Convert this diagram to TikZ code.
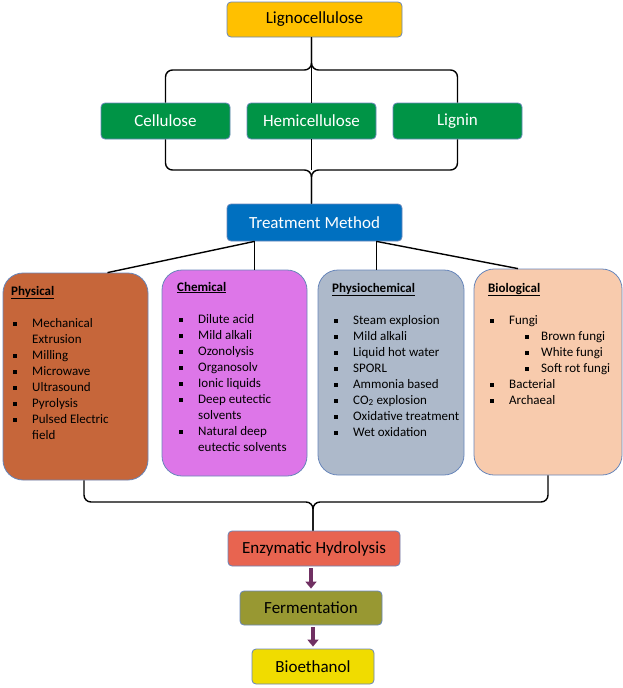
\documentclass[tikz,border=0pt]{standalone}
\usepackage{fontspec}
\setmainfont{Carlito}
\usetikzlibrary{arrows.meta}
\definecolor{edgeblue}{RGB}{104,134,186}
\definecolor{lcgold}{RGB}{255,192,0}
\definecolor{cgreen}{RGB}{0,148,70}
\definecolor{tmblue}{RGB}{0,112,192}
\definecolor{phybrown}{RGB}{198,102,58}
\definecolor{chepink}{RGB}{221,118,232}
\definecolor{pscgray}{RGB}{173,185,202}
\definecolor{biopeach}{RGB}{248,203,173}
\definecolor{ehred}{RGB}{232,100,80}
\definecolor{ferolive}{RGB}{152,152,50}
\definecolor{beyellow}{RGB}{240,220,0}
\definecolor{flowpurple}{RGB}{112,48,98}
\tikzstyle{box}=[rectangle,rounded corners=4pt,draw=edgeblue,line width=0.8pt,minimum height=35pt,inner sep=0pt,font=\fontsize{17}{20}\selectfont]
\tikzstyle{catbox}=[rectangle,rounded corners=20pt,draw=edgeblue,line width=0.8pt]
\tikzstyle{catlist}=[inner sep=0pt,anchor=base west,font=\fontsize{13}{16}\selectfont]
\tikzstyle{brace}=[line width=1.4pt,rounded corners=7pt]
\tikzstyle{link}=[line width=1.4pt]
\tikzstyle{flow}=[draw=flowpurple,line width=4pt,-{Triangle[width=11pt,length=7pt]},shorten <=2pt,shorten >=2pt]
\newcommand{\bsq}{\hspace{2pt}\rule[1.3pt]{4pt}{4pt}}

\begin{document}
\begin{tikzpicture}[x=1pt,y=-1pt]
    \useasboundingbox (0,0) rectangle (623,688);
    \node[box,fill=lcgold,minimum width=175pt] (lc) at (314.5,19.5) {Lignocellulose};
    \node[box,fill=cgreen,text=white,minimum width=129pt,minimum height=36pt] (cel) at (165.5,121) {Cellulose};
    \node[box,fill=cgreen,text=white,minimum width=129pt,minimum height=36pt] (hem) at (311.5,121) {Hemicellulose};
    \node[box,fill=cgreen,text=white,minimum width=129pt,minimum height=36pt] (lig) at (457.5,121) {Lignin};
    \node[box,fill=tmblue,text=white,minimum width=175pt,minimum height=37pt] (tm) at (314.5,222.5) {Treatment Method};
%   upper braces
    \coordinate (tb) at (311.5,70);
    \coordinate (bb) at (311.5,170);
    \draw[brace] (cel.north) |- (tb) -- (lc.south -| tb);
    \draw[brace] (lig.north) |- (tb) -- (lc.south -| tb);
    \draw[link] (lc.south -| tb) -- (hem.north);
    \draw[brace] (cel.south) |- (bb) -- (tm.north -| bb);
    \draw[brace] (lig.south) |- (bb) -- (tm.north -| bb);
    \draw[link] (hem.south) -- (bb);
%   treatment classes
    \node[catbox,fill=phybrown,minimum width=145pt,minimum height=207pt] (phy) at (75.5,376.5) {};
    \node[catbox,fill=chepink,minimum width=145pt,minimum height=206pt] (che) at (234.5,373) {};
    \node[catbox,fill=pscgray,minimum width=146pt,minimum height=205pt] (psc) at (391,372.5) {};
    \node[catbox,fill=biopeach,minimum width=148pt,minimum height=206pt] (bio) at (548,372) {};
    \coordinate (ta) at ([xshift=-60pt]tm.south);
    \coordinate (tc) at ([xshift=62pt]tm.south);
    \draw[link] (ta) -- (ta |- che.north);
    \draw[link] (ta) -- ([xshift=32pt]phy.north);
    \draw[link] (tc) -- (tc |- psc.north);
    \draw[link] (tc) -- ([xshift=-30pt]bio.north);
    \node[catlist] (phyl) at (11,295) {\begin{tabular}[t]{@{}p{21pt}@{}l@{}}
        \multicolumn{2}{@{}l@{}}{\textbf{\underline{Physical}}}\\[16pt]
        \bsq & Mechanical\\
             & Extrusion\\
        \bsq & Milling\\
        \bsq & Microwave\\
        \bsq & Ultrasound\\
        \bsq & Pyrolysis\\
        \bsq & Pulsed Electric\\
             & field
    \end{tabular}};
    \node[catlist] (chel) at (177,291) {\begin{tabular}[t]{@{}p{21pt}@{}l@{}}
        \multicolumn{2}{@{}l@{}}{\textbf{\underline{Chemical}}}\\[16pt]
        \bsq & Dilute acid\\
        \bsq & Mild alkali\\
        \bsq & Ozonolysis\\
        \bsq & Organosolv\\
        \bsq & Ionic liquids\\
        \bsq & Deep eutectic\\
             & solvents\\
        \bsq & Natural deep\\
             & eutectic solvents
    \end{tabular}};
    \node[catlist] (pscl) at (332,292) {\begin{tabular}[t]{@{}p{21pt}@{}l@{}}
        \multicolumn{2}{@{}l@{}}{\textbf{\underline{Physiochemical}}}\\[16pt]
        \bsq & Steam explosion\\
        \bsq & Mild alkali\\
        \bsq & Liquid hot water\\
        \bsq & SPORL\\
        \bsq & Ammonia based\\
        \bsq & CO\textsubscript{2} explosion\\
        \bsq & Oxidative treatment\\
        \bsq & Wet oxidation
    \end{tabular}};
    \node[catlist] (biol) at (488,292) {\begin{tabular}[t]{@{}p{21pt}@{}l@{}}
        \multicolumn{2}{@{}l@{}}{\textbf{\underline{Biological}}}\\[16pt]
        \bsq & Fungi\\
             & \hspace{14pt}\makebox[18pt][l]{\bsq}Brown fungi\\
             & \hspace{14pt}\makebox[18pt][l]{\bsq}White fungi\\
             & \hspace{14pt}\makebox[18pt][l]{\bsq}Soft rot fungi\\
        \bsq & Bacterial\\
        \bsq & Archaeal
    \end{tabular}};
%   lower part
    \node[box,fill=ehred,minimum width=172pt] (eh) at (314,548.5) {Enzymatic Hydrolysis};
    \node[box,fill=ferolive,minimum width=142pt,minimum height=34pt] (fer) at (311,608) {Fermentation};
    \node[box,fill=beyellow,minimum width=122pt] (be) at (313,666.5) {Bioethanol};
    \coordinate (cb) at (313,502);
    \draw[brace] ([xshift=8.5pt]phy.south) |- (cb) -- (eh.north -| cb);
    \draw[brace] (bio.south) |- (cb) -- (eh.north -| cb);
    \draw[flow] (fer.north |- eh.south) -- (fer.north);
    \draw[flow] (be.north |- fer.south) -- (be.north);
\end{tikzpicture}
\end{document}
